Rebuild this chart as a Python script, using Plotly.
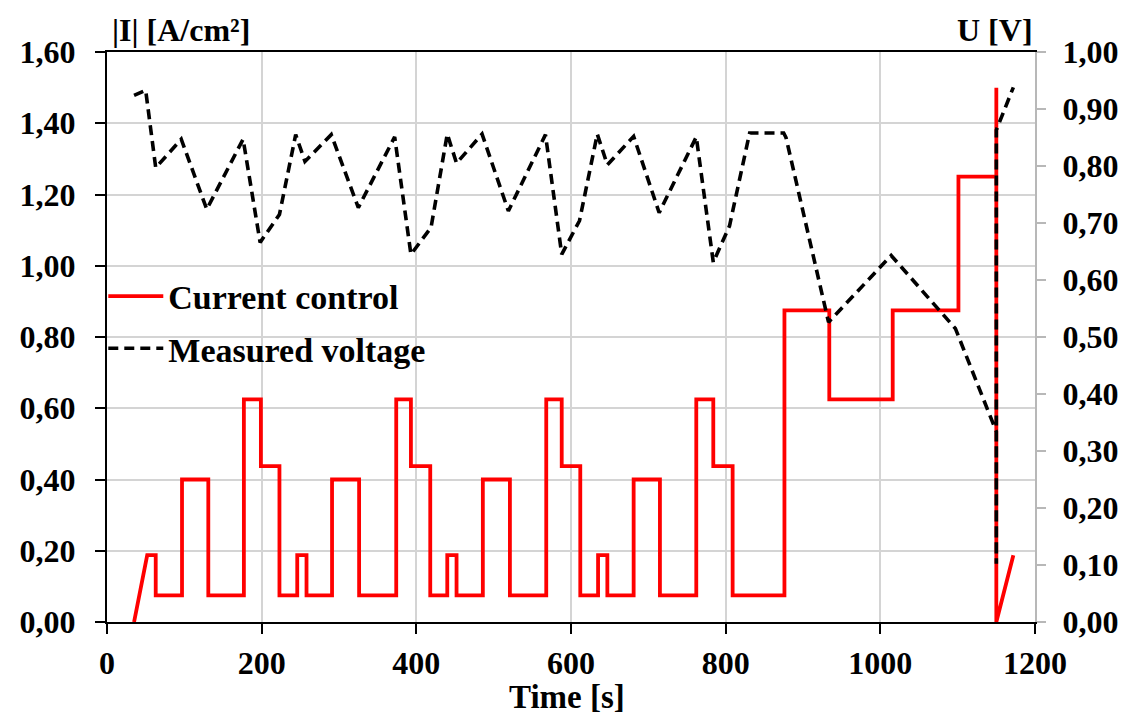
import plotly.graph_objects as go

# ---- data ----
# Current control (A/cm²): initial ramp, then step changes
current_ramp_t = [35, 52]
current_ramp_i = [0.0, 0.1875]
current_change_t = [63, 97, 131, 177, 199, 223, 246, 258, 291, 326, 374, 393, 418, 440,
                    452, 486, 521, 568, 588, 612, 635, 647, 681, 715, 762, 784, 809, 876,
                    934, 1016, 1101, 1150]
current_levels = [0.075, 0.40, 0.075, 0.625, 0.4375, 0.075, 0.1875, 0.075, 0.40, 0.075,
                  0.625, 0.4375, 0.075, 0.1875, 0.075, 0.40, 0.075, 0.625, 0.4375, 0.075,
                  0.1875, 0.075, 0.40, 0.075, 0.625, 0.4375, 0.075, 0.875, 0.625, 0.875,
                  1.25, 1.50]
current_end_t = [1150, 1172]
current_end_i = [0.0, 0.1875]

# Measured voltage (V)
volt_t = [35, 50, 63, 96, 129, 176, 198, 223, 244, 256, 290, 325, 372, 393, 419, 440, 452,
          485, 519, 567, 588, 611, 634, 647, 681, 714, 762, 784, 805, 831, 875, 878, 933,
          1014, 1097, 1150, 1150, 1150, 1172]
volt_u = [0.924, 0.933, 0.797, 0.847, 0.724, 0.847, 0.666, 0.715, 0.855, 0.808, 0.855,
          0.727, 0.851, 0.645, 0.692, 0.856, 0.805, 0.856, 0.721, 0.855, 0.645, 0.704,
          0.856, 0.802, 0.852, 0.718, 0.851, 0.631, 0.695, 0.858, 0.858, 0.85, 0.526,
          0.643, 0.515, 0.334, 0.102, 0.863, 0.938]

x_ticks = [0, 200, 400, 600, 800, 1000, 1200]
i_ticks = [0, 0.2, 0.4, 0.6, 0.8, 1.0, 1.2, 1.4, 1.6]
u_ticks = [0, 0.1, 0.2, 0.3, 0.4, 0.5, 0.6, 0.7, 0.8, 0.9, 1.0]

# build the step polyline for the current
cx = list(current_ramp_t)
cy = list(current_ramp_i)
prev = cy[-1]
for t, lv in zip(current_change_t, current_levels):
    cx += [t, t]
    cy += [prev, lv]
    prev = lv
cx += current_end_t
cy += current_end_i

FONT = "Liberation Serif"
fig = go.Figure()
fig.add_trace(go.Scatter(x=cx, y=cy, mode="lines", name="Current control",
                         line=dict(color="#ff0000", width=3.8), yaxis="y",
                         legendgroup="a"))
fig.add_trace(go.Scatter(x=volt_t, y=volt_u, mode="lines", name="Measured voltage",
                         line=dict(color="black", width=3.6, dash="10px,6px"),
                         yaxis="y2", legendgroup="b"))

tickfont = dict(family=FONT, size=32, color="black", weight="bold")
fig.update_layout(
    width=1132, height=710,
    margin=dict(l=89, r=105, t=44, b=96),
    paper_bgcolor="white", plot_bgcolor="white",
    separators=",.",
    showlegend=True,
    legend=dict(x=-0.004, y=0.622, xanchor="left", yanchor="top",
                bgcolor="rgba(0,0,0,0)", font=dict(family=FONT, size=34, color="black", weight="bold"),
                itemwidth=55, traceorder="grouped", tracegroupgap=5),
    xaxis=dict(range=[0, 1200], tickvals=x_ticks, tickformat="d",
               showgrid=True, gridcolor="#d4d4d4", gridwidth=1.5,
               showline=True, linecolor="black", linewidth=2, mirror=True,
               ticks="outside", ticklen=10, tickwidth=2, tickcolor="black",
               tickfont=tickfont, ticklabelstandoff=2, zeroline=False),
    xaxis2=dict(range=[0, 1200], tickvals=x_ticks, overlaying="x", anchor="y",
                showgrid=False, showline=False, ticks="inside", ticklen=10, tickwidth=2,
                tickcolor="black", showticklabels=False, zeroline=False),
    yaxis=dict(range=[0, 1.6], tickvals=i_ticks, tickformat=".2f",
               showgrid=True, gridcolor="#d4d4d4", gridwidth=1.5,
               showline=True, linecolor="black", linewidth=2,
               ticks="outside", ticklen=10, tickwidth=2, tickcolor="black",
               tickfont=tickfont, ticklabelstandoff=13, zeroline=False),
    yaxis3=dict(range=[0, 1.6], tickvals=i_ticks, overlaying="y", anchor="x", side="left",
                showgrid=False, showline=False, ticks="inside", ticklen=10, tickwidth=2,
                tickcolor="black", showticklabels=False, zeroline=False),
    yaxis2=dict(range=[0, 1.0], tickvals=u_ticks, tickformat=".2f", overlaying="y",
                side="right", anchor="x", showgrid=False,
                showline=True, linecolor="#b8b8b8", linewidth=2,
                ticks="outside", ticklen=9, tickwidth=2, tickcolor="#b8b8b8",
                tickfont=tickfont, ticklabelstandoff=10, zeroline=False),
    annotations=[
        dict(text="|I| [A/cm²]", xref="paper", yref="paper", x=0.0032, y=1.0386,
             xanchor="left", yanchor="middle", showarrow=False,
             font=dict(family=FONT, size=32, color="black", weight="bold")),
        dict(text="U [V]", xref="paper", yref="paper", x=1.0, y=1.0386,
             xanchor="right", yanchor="middle", showarrow=False,
             font=dict(family=FONT, size=32, color="black", weight="bold")),
        dict(text="Time [s]", xref="paper", yref="paper", x=0.496, y=-0.132,
             xanchor="center", yanchor="middle", showarrow=False,
             font=dict(family=FONT, size=33, color="black", weight="bold")),
    ],
)

fig.write_html("out.html")
